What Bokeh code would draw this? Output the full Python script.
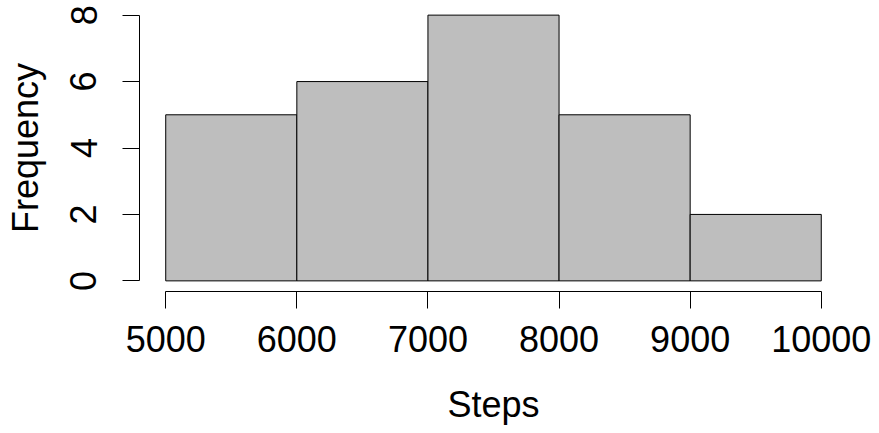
from bokeh.plotting import figure
from bokeh.models import Range1d, FixedTicker
from bokeh.embed import file_html
from bokeh.resources import INLINE

bin_left = [5000, 6000, 7000, 8000, 9000]
bin_right = [6000, 7000, 8000, 9000, 10000]
counts = [5, 6, 8, 5, 2]
x_ticks = [5000, 6000, 7000, 8000, 9000, 10000]
y_ticks = [0, 2, 4, 6, 8]
x_title = "Steps"
y_title = "Frequency"

FONT = "Liberation Sans"
FS = "36px"

p = figure(width=871, height=429, output_backend="svg", toolbar_location=None,
           x_range=Range1d(4800, 10200), y_range=Range1d(-0.32, 8.32),
           min_border_left=139, min_border_right=24, min_border_top=4, min_border_bottom=138)
p.outline_line_color = None
p.xgrid.visible = False
p.ygrid.visible = False
p.background_fill_color = "white"
p.border_fill_color = "white"

p.quad(left=bin_left, right=bin_right, bottom=0, top=counts,
       fill_color="#BEBEBE", line_color="black", line_width=1)

for ax in (p.xaxis[0], p.yaxis[0]):
    ax.major_tick_in = 0
    ax.major_tick_out = 17
    ax.minor_tick_in = 0
    ax.minor_tick_out = 0
    ax.axis_line_color = "black"
    ax.major_tick_line_color = "black"
    ax.major_label_text_font = FONT
    ax.major_label_text_font_size = FS
    ax.major_label_text_color = "black"
    ax.axis_label_text_font = FONT
    ax.axis_label_text_font_size = FS
    ax.axis_label_text_font_style = "normal"
    ax.axis_label_text_color = "black"

p.xaxis.ticker = FixedTicker(ticks=x_ticks)
p.xaxis.bounds = (5000, 10000)
p.xaxis.major_label_standoff = 17
p.xaxis.axis_label = x_title
p.xaxis.axis_label_standoff = 29

p.yaxis.ticker = FixedTicker(ticks=y_ticks)
p.yaxis.bounds = (0, 8)
p.yaxis.major_label_orientation = "vertical"
p.yaxis.major_label_standoff = 26
p.yaxis.axis_label = y_title
p.yaxis.axis_label_standoff = 22

open("out.html", "w").write(file_html(p, INLINE))
